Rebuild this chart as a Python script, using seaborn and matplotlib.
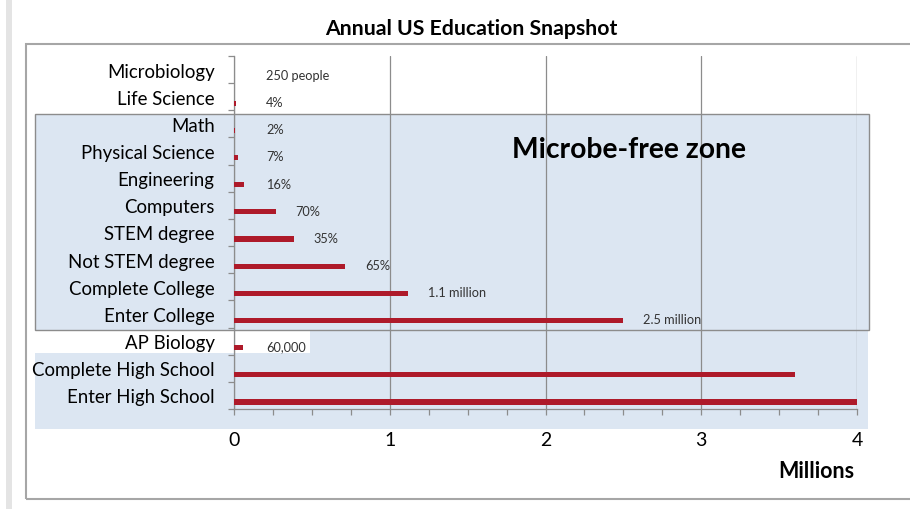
import numpy as np
import pandas as pd
import matplotlib
matplotlib.use("Agg")
import matplotlib.pyplot as plt
import seaborn as sns
from matplotlib.patches import Rectangle
from matplotlib.ticker import FixedLocator, MultipleLocator

# ---------------- data ----------------
categories = ["Microbiology", "Life Science", "Math", "Physical Science", "Engineering",
              "Computers", "STEM degree", "Not STEM degree", "Complete College",
              "Enter College", "AP Biology", "Complete High School", "Enter High School"]
values_millions = [0.00025, 0.0154, 0.0077, 0.027, 0.062, 0.27, 0.385, 0.715,
                   1.12, 2.5, 0.06, 3.6, 4.0]
value_labels = ["250 people", "4%", "2%", "7%", "16%", "70%", "35%", "65%",
                "1.1 million", "2.5 million", "60,000", "", ""]
x_ticks = [0, 1, 2, 3, 4]
title = "Annual US Education Snapshot"
x_title = "Millions"
zone_label = "Microbe-free zone"

# ---------------- style ----------------
sns.set_style("white")
plt.rcParams["font.family"] = ["Lato", "DejaVu Sans"]
BAR = "#AE1A2A"
BLUE = "#DCE6F2"
GRID = "#8C8C8C"
TXT = "#000000"

W, H = 910, 510
fig = plt.figure(figsize=(W / 100, H / 100), dpi=100)


def frect(x0, y0, x1, y1, **kw):
    """rectangle given in pixel coords of the figure (origin top-left)"""
    r = Rectangle((x0 / W, 1 - y1 / H), (x1 - x0) / W, (y1 - y0) / H,
                  transform=fig.transFigure, **kw)
    fig.add_artist(r)
    return r


# background decorations
frect(6, -5, 12, H + 5, facecolor="#E4E4E4", edgecolor="none", zorder=-5)
frect(26, 45, W + 20, 500, facecolor="none", edgecolor="#A6A6A6", lw=1.5, zorder=-4)
frect(35, 331, 868, 430, facecolor=BLUE, edgecolor="none", zorder=-3)
frect(33, 332, 310, 354, facecolor="white", edgecolor="none", zorder=-2.5)
frect(35, 115, 869, 331, facecolor=BLUE, edgecolor=GRID, lw=1.0, zorder=-2)

ax = fig.add_axes([234 / W, 1 - 410 / H, (857 - 234) / W, (410 - 57) / H])
ax.set_facecolor("none")

df = pd.DataFrame({"category": categories, "value": values_millions})
sns.barplot(data=df, x="value", y="category", orient="h", order=categories,
            color=BAR, saturation=1, width=0.19, errorbar=None, ax=ax, zorder=3)
for p in ax.patches:
    p.set_y(p.get_y() + 0.24)
    p.set_edgecolor("none")

n = len(categories)
ax.set_ylim(n - 0.5, -0.5)
ax.set_xlim(x_ticks[0], x_ticks[-1])

# data labels
for i, (v, lab) in enumerate(zip(values_millions, value_labels)):
    if lab:
        ax.text(max(v, 0.08) + 0.125, i + 0.2, lab, fontsize=9.2, color="#333333",
                va="center", ha="left", zorder=4)

# axes styling
ax.set_xticks(x_ticks)
ax.set_xticklabels([str(t) for t in x_ticks], fontsize=14)
ax.xaxis.set_minor_locator(MultipleLocator(0.25))
ax.tick_params(axis="x", which="both", direction="out", length=4, width=0.9,
               color=GRID, labelcolor=TXT, bottom=True, pad=11.5)
ax.set_yticks(range(n))
ax.set_yticklabels(categories, fontsize=13.4)
ax.yaxis.set_minor_locator(FixedLocator(np.arange(-0.5, n, 1.0)))
ax.tick_params(axis="y", which="major", length=0, pad=14, labelcolor=TXT)
ax.tick_params(axis="y", which="minor", direction="out", length=4, width=0.9,
               color=GRID, left=True)
ax.grid(axis="x", color=GRID, lw=0.9, zorder=1)
ax.set_axisbelow(True)
for s in ["top", "right"]:
    ax.spines[s].set_visible(False)
for s in ["left", "bottom"]:
    ax.spines[s].set_color(GRID)
    ax.spines[s].set_linewidth(0.9)
ax.set_xlabel("")
ax.set_ylabel("")

fig.text(471 / W, 1 - 29 / H, title, ha="center", va="center",
         fontsize=15.3, fontweight="bold", color=TXT)
fig.text(816 / W, 1 - 471 / H, x_title, ha="center", va="center",
         fontsize=15.5, fontweight="bold", color=TXT)
fig.text(629 / W, 1 - 150 / H, zone_label, ha="center", va="center",
         fontsize=20.3, fontweight="bold", color=TXT)

fig.savefig("out.png", dpi=100)
